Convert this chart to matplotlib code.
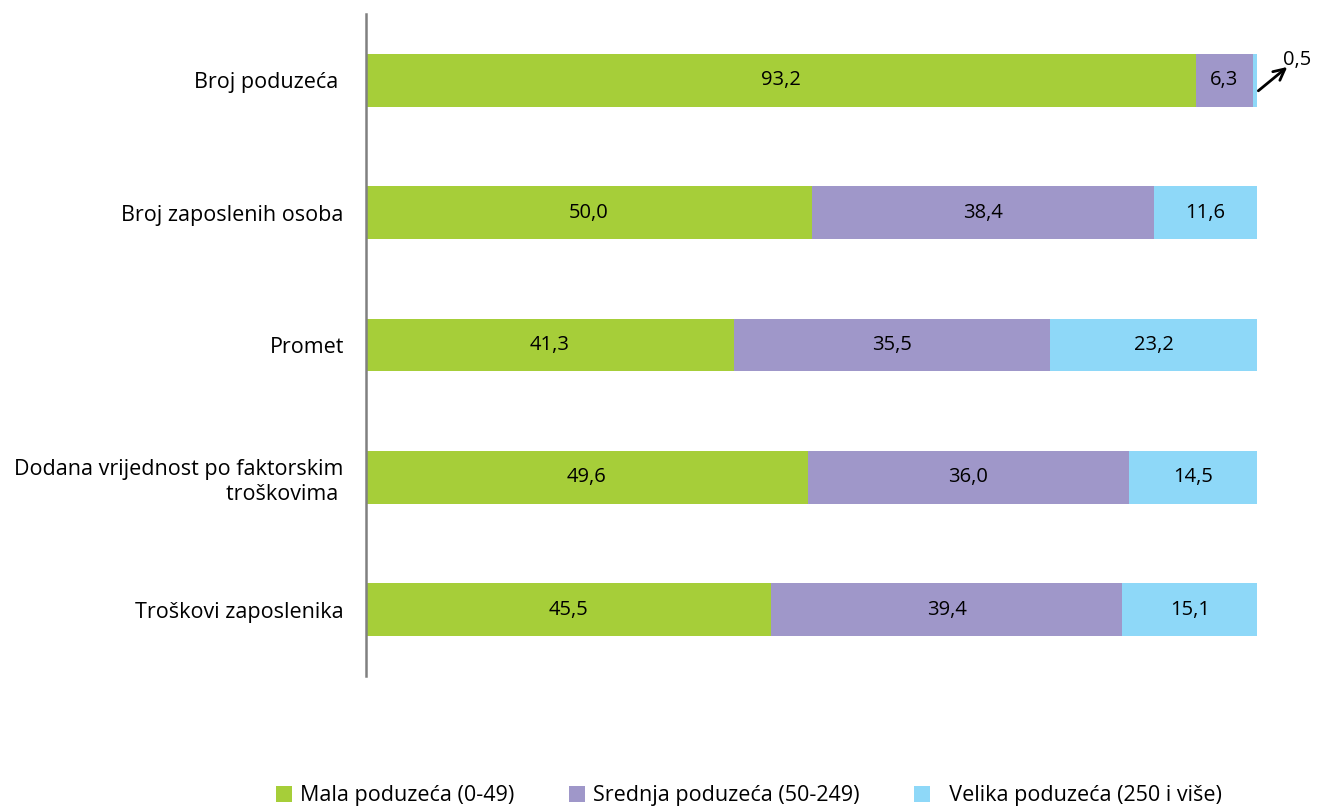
import matplotlib
matplotlib.use("Agg")
import matplotlib.pyplot as plt
import numpy as np

plt.rcParams['font.family'] = ['Open Sans', 'DejaVu Sans']

categories = ["Broj poduzeća ", "Broj zaposlenih osoba", "Promet",
              "Dodana vrijednost po faktorskim\ntroškovima ", "Troškovi zaposlenika"]
mala = [93.2, 50.0, 41.3, 49.6, 45.5]
srednja = [6.3, 38.4, 35.5, 36.0, 39.4]
velika = [0.5, 11.6, 23.2, 14.5, 15.1]
series_names = ["Mala poduzeća (0-49)", "Srednja poduzeća (50-249)", "  Velika poduzeća (250 i više)"]
colors = ["#A6CE39", "#9F97C9", "#8ED8F8"]

fig = plt.figure(figsize=(13.17, 8.08), dpi=100)
ax = fig.add_axes([366/1317, 1-676/808, (1257-366)/1317, (676-14)/808])

y = np.arange(len(categories))
left = np.zeros(len(categories))
bars = []
for vals, name, c in zip([mala, srednja, velika], series_names, colors):
    b = ax.barh(y, vals, left=left, height=0.4, color=c, label=name)
    bars.append(b)
    for yi, v, l in zip(y, vals, left):
        if v >= 2:
            ax.text(l + v/2, yi, f"{v:.1f}".replace('.', ','), ha='center', va='center',
                    fontsize=14.5, color='black')
    left = left + np.array(vals)

# small value annotation with arrow
ax.annotate("", xy=(103.4, -0.1), xytext=(100.15, 0.08), annotation_clip=False,
            arrowprops=dict(arrowstyle='->', color='black', lw=2, shrinkA=0, shrinkB=0,
                            mutation_scale=20))
ax.text(102.9, -0.15, f"{velika[0]:.1f}".replace('.', ','), fontsize=14.5, ha='left',
        va='center', clip_on=False)

ax.set_xlim(0, 100)
ax.set_ylim(4.5, -0.5)
ax.set_yticks(y)
ax.set_yticklabels(categories, fontsize=15.5, ha='right', multialignment='right',
                   linespacing=1.25)
ax.tick_params(axis='y', length=0, pad=16)
ax.set_xticks([])
for s in ['top', 'right', 'bottom']:
    ax.spines[s].set_visible(False)
ax.spines['left'].set_color('#808080')
ax.spines['left'].set_linewidth(1.8)

fig.legend(handles=bars, labels=series_names, loc='center', bbox_to_anchor=(749/1317, 1-796/808),
           ncol=3, frameon=False, fontsize=15.5, handlelength=0.75, handleheight=0.75,
           handletextpad=0.4, columnspacing=2.5, borderpad=0)

fig.savefig("out.png", dpi=100)
